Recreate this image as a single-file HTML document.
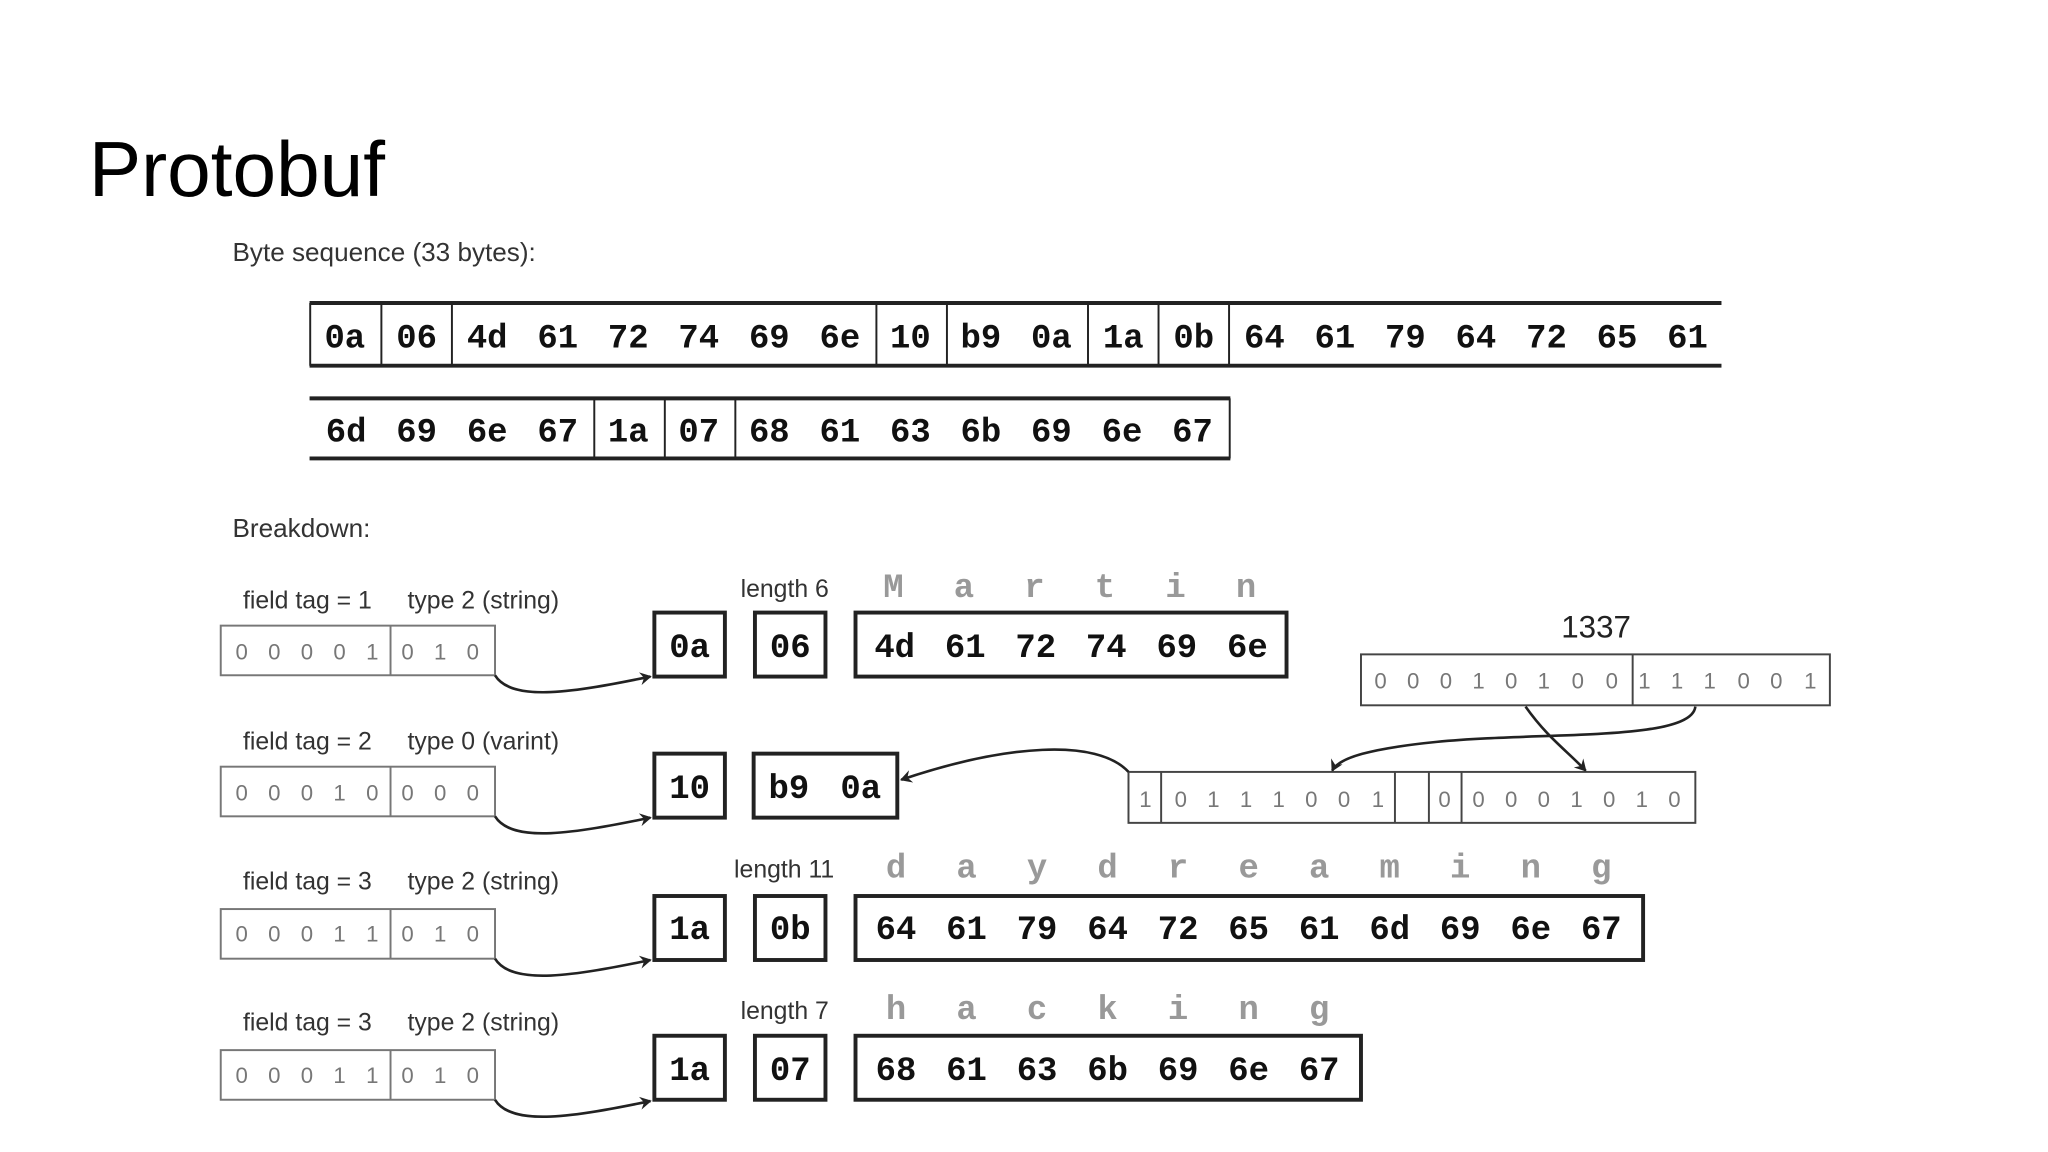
<!DOCTYPE html>
<html><head><meta charset="utf-8"><style>
html,body{margin:0;padding:0;background:#fff;}
svg{display:block;}
.m{font-family:"Liberation Mono",monospace;font-weight:bold;font-size:26px;fill:#111;}
.g{font-family:"Liberation Mono",monospace;font-weight:bold;font-size:26px;fill:#999;}
.s{font-family:"Liberation Sans",sans-serif;font-size:20px;fill:#333;}
.lab{font-family:"Liberation Sans",sans-serif;font-size:19px;fill:#333;}
.b{font-family:"Liberation Sans",sans-serif;font-size:17px;fill:#777;}
</style></head><body>
<svg width="2048" height="1152" viewBox="0 0 1568 882" xmlns="http://www.w3.org/2000/svg">
<defs><marker id="ah" markerWidth="10" markerHeight="10" refX="8" refY="5" orient="auto" markerUnits="userSpaceOnUse"><path d="M0,0 L9,5 L0,10 L3,5 Z" fill="#222"/></marker></defs>
<text x="68" y="150" font-family="Liberation Sans,sans-serif" font-size="60" fill="#000">Protobuf</text>
<text x="178" y="200" class="s">Byte sequence (33 bytes):</text>
<!-- row1 -->
<g stroke="#222" fill="none">
<line x1="237" y1="232" x2="1318" y2="232" stroke-width="3"/>
<line x1="237" y1="280" x2="1318" y2="280" stroke-width="3"/>
<line x1="237.5" y1="232" x2="237.5" y2="280" stroke-width="1.5"/>
<line x1="292" y1="232" x2="292" y2="280" stroke-width="1.5"/>
<line x1="346" y1="232" x2="346" y2="280" stroke-width="1.5"/>
<line x1="671" y1="232" x2="671" y2="280" stroke-width="1.5"/>
<line x1="725" y1="232" x2="725" y2="280" stroke-width="1.5"/>
<line x1="833" y1="232" x2="833" y2="280" stroke-width="1.5"/>
<line x1="887" y1="232" x2="887" y2="280" stroke-width="1.5"/>
<line x1="941" y1="232" x2="941" y2="280" stroke-width="1.5"/>
<line x1="237" y1="305" x2="942" y2="305" stroke-width="3"/>
<line x1="237" y1="351" x2="942" y2="351" stroke-width="3"/>
<line x1="941.5" y1="305" x2="941.5" y2="351" stroke-width="1.5"/>
<line x1="455" y1="305" x2="455" y2="351" stroke-width="1.5"/>
<line x1="509" y1="305" x2="509" y2="351" stroke-width="1.5"/>
<line x1="563" y1="305" x2="563" y2="351" stroke-width="1.5"/>
</g>
<g class="m" text-anchor="middle">
<text x="264" y="266">0a</text><text x="319" y="266">06</text><text x="373" y="266">4d</text><text x="427" y="266">61</text><text x="481" y="266">72</text><text x="535" y="266">74</text><text x="589" y="266">69</text><text x="643" y="266">6e</text><text x="697" y="266">10</text><text x="751" y="266">b9</text><text x="805" y="266">0a</text><text x="860" y="266">1a</text><text x="914" y="266">0b</text><text x="968" y="266">64</text><text x="1022" y="266">61</text><text x="1076" y="266">79</text><text x="1130" y="266">64</text><text x="1184" y="266">72</text><text x="1238" y="266">65</text><text x="1292" y="266">61</text>
<text x="265" y="338">6d</text><text x="319" y="338">69</text><text x="373" y="338">6e</text><text x="427" y="338">67</text><text x="481" y="338">1a</text><text x="535" y="338">07</text><text x="589" y="338">68</text><text x="643" y="338">61</text><text x="697" y="338">63</text><text x="751" y="338">6b</text><text x="805" y="338">69</text><text x="859" y="338">6e</text><text x="913" y="338">67</text>
</g>
<text x="178" y="411" class="s">Breakdown:</text>

<!-- breakdown rows: common bit boxes -->
<g stroke="#777" stroke-width="1.5" fill="none">
<rect x="169" y="479" width="210" height="38"/><line x1="299" y1="479" x2="299" y2="517"/>
<rect x="169" y="587" width="210" height="38"/><line x1="299" y1="587" x2="299" y2="625"/>
<rect x="169" y="696" width="210" height="38"/><line x1="299" y1="696" x2="299" y2="734"/>
<rect x="169" y="804" width="210" height="38"/><line x1="299" y1="804" x2="299" y2="842"/>
</g>
<g class="lab">
<text x="186" y="466">field tag = 1</text><text x="312" y="466">type 2 (string)</text>
<text x="186" y="574">field tag = 2</text><text x="312" y="574">type 0 (varint)</text>
<text x="186" y="681">field tag = 3</text><text x="312" y="681">type 2 (string)</text>
<text x="186" y="789">field tag = 3</text><text x="312" y="789">type 2 (string)</text>
<text x="567" y="457">length 6</text><text x="562" y="672">length 11</text><text x="567" y="780">length 7</text>
</g>
<g class="b" text-anchor="middle">
<text x="185" y="505">0</text><text x="210" y="505">0</text><text x="235" y="505">0</text><text x="260" y="505">0</text><text x="285" y="505">1</text><text x="312" y="505">0</text><text x="337" y="505">1</text><text x="362" y="505">0</text>
<text x="185" y="613">0</text><text x="210" y="613">0</text><text x="235" y="613">0</text><text x="260" y="613">1</text><text x="285" y="613">0</text><text x="312" y="613">0</text><text x="337" y="613">0</text><text x="362" y="613">0</text>
<text x="185" y="721">0</text><text x="210" y="721">0</text><text x="235" y="721">0</text><text x="260" y="721">1</text><text x="285" y="721">1</text><text x="312" y="721">0</text><text x="337" y="721">1</text><text x="362" y="721">0</text>
<text x="185" y="829">0</text><text x="210" y="829">0</text><text x="235" y="829">0</text><text x="260" y="829">1</text><text x="285" y="829">1</text><text x="312" y="829">0</text><text x="337" y="829">1</text><text x="362" y="829">0</text>
</g>
<g stroke="#222" stroke-width="2" fill="none" marker-end="url(#ah)">
<path d="M379,517 C392,538 440,530 498,518"/>
<path d="M379,625 C392,646 440,638 498,626"/>
<path d="M379,734 C392,755 440,747 498,735"/>
<path d="M379,842 C392,863 440,855 498,843"/>
</g>
<!-- thick boxes -->
<g stroke="#222" stroke-width="3" fill="none">
<rect x="501" y="469" width="54" height="49"/><rect x="578" y="469" width="54" height="49"/><rect x="655" y="469" width="330" height="49"/>
<rect x="501" y="577" width="54" height="49"/><rect x="577" y="577" width="110" height="49"/>
<rect x="501" y="686" width="54" height="49"/><rect x="578" y="686" width="54" height="49"/><rect x="655" y="686" width="603" height="49"/>
<rect x="501" y="793" width="54" height="49"/><rect x="578" y="793" width="54" height="49"/><rect x="655" y="793" width="387" height="49"/>
</g>
<g class="m" text-anchor="middle">
<text x="528" y="503">0a</text><text x="605" y="503">06</text>
<text x="685" y="503">4d</text><text x="739" y="503">61</text><text x="793" y="503">72</text><text x="847" y="503">74</text><text x="901" y="503">69</text><text x="955" y="503">6e</text>
<text x="528" y="611">10</text><text x="604" y="611">b9</text><text x="659" y="611">0a</text>
<text x="528" y="719">1a</text><text x="605" y="719">0b</text>
<text x="686" y="719">64</text><text x="740" y="719">61</text><text x="794" y="719">79</text><text x="848" y="719">64</text><text x="902" y="719">72</text><text x="956" y="719">65</text><text x="1010" y="719">61</text><text x="1064" y="719">6d</text><text x="1118" y="719">69</text><text x="1172" y="719">6e</text><text x="1226" y="719">67</text>
<text x="528" y="827">1a</text><text x="605" y="827">07</text>
<text x="686" y="827">68</text><text x="740" y="827">61</text><text x="794" y="827">63</text><text x="848" y="827">6b</text><text x="902" y="827">69</text><text x="956" y="827">6e</text><text x="1010" y="827">67</text>
</g>
<g class="g" text-anchor="middle">
<text x="684" y="457">M</text><text x="738" y="457">a</text><text x="792" y="457">r</text><text x="846" y="457">t</text><text x="900" y="457">i</text><text x="954" y="457">n</text>
<text x="686" y="672">d</text><text x="740" y="672">a</text><text x="794" y="672">y</text><text x="848" y="672">d</text><text x="902" y="672">r</text><text x="956" y="672">e</text><text x="1010" y="672">a</text><text x="1064" y="672">m</text><text x="1118" y="672">i</text><text x="1172" y="672">n</text><text x="1226" y="672">g</text>
<text x="686" y="780">h</text><text x="740" y="780">a</text><text x="794" y="780">c</text><text x="848" y="780">k</text><text x="902" y="780">i</text><text x="956" y="780">n</text><text x="1010" y="780">g</text>
</g>
<!-- varint -->
<text x="1222" y="488" text-anchor="middle" font-family="Liberation Sans,sans-serif" font-size="24" fill="#222">1337</text>
<g stroke="#444" stroke-width="1.5" fill="none">
<rect x="1042" y="501" width="359" height="39"/><line x1="1250" y1="501" x2="1250" y2="540"/>
<rect x="864" y="591" width="434" height="39"/><line x1="889" y1="591" x2="889" y2="630"/><line x1="1068" y1="591" x2="1068" y2="630"/><line x1="1094" y1="591" x2="1094" y2="630"/><line x1="1119" y1="591" x2="1119" y2="630"/>
</g>
<g class="b" text-anchor="middle">
<text x="1057" y="527">0</text><text x="1082" y="527">0</text><text x="1107" y="527">0</text><text x="1132" y="527">1</text><text x="1157" y="527">0</text><text x="1182" y="527">1</text><text x="1208" y="527">0</text><text x="1234" y="527">0</text>
<text x="1259" y="527">1</text><text x="1284" y="527">1</text><text x="1309" y="527">1</text><text x="1335" y="527">0</text><text x="1360" y="527">0</text><text x="1386" y="527">1</text>
<text x="877" y="618">1</text>
<text x="904" y="618">0</text><text x="929" y="618">1</text><text x="954" y="618">1</text><text x="979" y="618">1</text><text x="1004" y="618">0</text><text x="1029" y="618">0</text><text x="1055" y="618">1</text>
<text x="1106" y="618">0</text>
<text x="1132" y="618">0</text><text x="1157" y="618">0</text><text x="1182" y="618">0</text><text x="1207" y="618">1</text><text x="1232" y="618">0</text><text x="1257" y="618">1</text><text x="1282" y="618">0</text>
</g>
<g stroke="#222" stroke-width="2" fill="none" marker-end="url(#ah)">
<path d="M1298,541 C1295,568 1180,560 1100,568 C1050,573 1025,580 1020,590"/>
<path d="M1168,541 C1185,565 1200,575 1214,590"/>
<path d="M864,591 C840,565 770,570 690,597"/>
</g>
</svg>
</body></html>
